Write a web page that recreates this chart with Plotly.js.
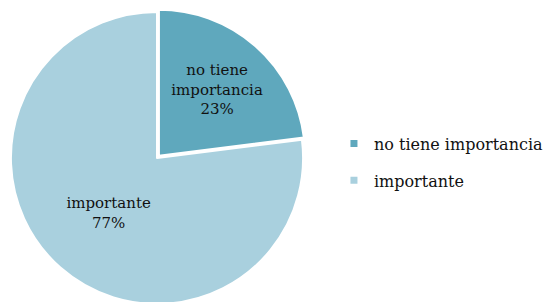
<!DOCTYPE html>
<html><head><meta charset="utf-8">
<script src="https://cdn.plot.ly/plotly-3.0.1.min.js"></script>
<style>html,body{margin:0;padding:0;overflow:hidden;background:#fff}</style>
</head><body><div id="chart"></div>
<script>
var labels = ["no tiene importancia", "importante"];
var values = [23, 77];
var sliceText = ["no tiene<br>importancia<br>23%", "importante<br>77%"];
var colors = ["#5FA8BD", "#A9D0DE"];
var serif = "DejaVu Serif";

var traces = [{
  type: "pie",
  labels: labels,
  values: values,
  text: sliceText,
  textinfo: "text",
  textposition: "inside",
  insidetextorientation: "horizontal",
  sort: false,
  direction: "clockwise",
  rotation: 0,
  pull: [0.02, 0],
  showlegend: false,
  marker: {colors: colors, line: {color: "#ffffff", width: 2}},
  insidetextfont: {family: serif, size: 15, color: "#111111"},
  domain: {x: [8/552, 306/552], y: [0, 1]}
}];
labels.forEach(function(lab, i) {
  traces.push({
    type: "scatter", mode: "markers", x: [null], y: [null],
    name: lab, legendgroup: "g" + i, showlegend: true,
    marker: {symbol: "square", size: 7, color: colors[i]}
  });
});

Plotly.newPlot("chart", traces, {
  width: 552, height: 307,
  margin: {l: 0, r: 0, t: 9, b: 0},
  paper_bgcolor: "#ffffff",
  plot_bgcolor: "rgba(0,0,0,0)",
  xaxis: {visible: false, domain: [0.99, 1]},
  yaxis: {visible: false, domain: [0.99, 1]},
  showlegend: true,
  legend: {x: 0.605, y: 0.486, yanchor: "middle", xanchor: "left",
    tracegroupgap: 13, itemwidth: 30,
    font: {family: serif, size: 16, color: "#111111"}},
  font: {family: serif}
}, {staticPlot: true});
</script></body></html>
